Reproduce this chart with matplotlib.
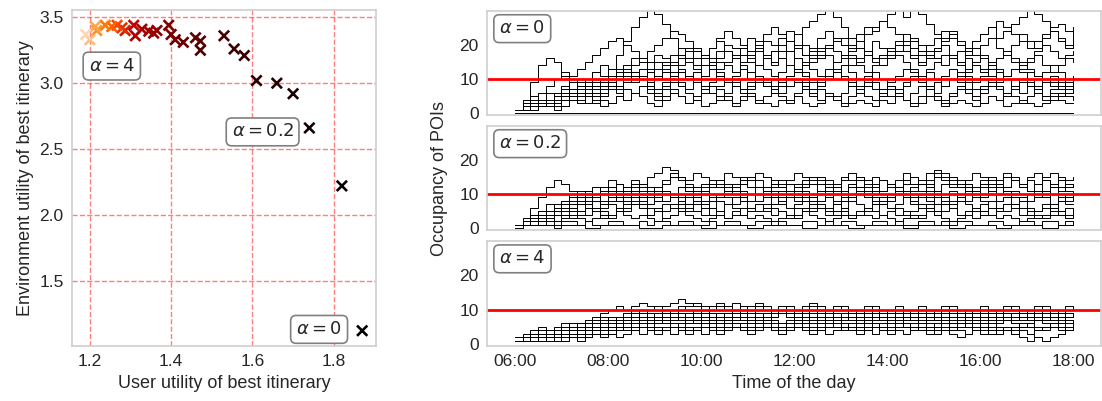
import numpy as np
import matplotlib
matplotlib.use("Agg")
import matplotlib.pyplot as plt

plt.rcParams["font.family"] = ["Liberation Sans", "DejaVu Sans"]
plt.rcParams["text.color"] = "#262626"
plt.rcParams["axes.labelcolor"] = "#262626"
plt.rcParams["xtick.color"] = "#262626"
plt.rcParams["ytick.color"] = "#262626"

# --- left: trade-off between user and environment utility (alpha = 0 ... 4)
user_util = [1.87, 1.82, 1.74, 1.70, 1.66, 1.61, 1.58, 1.555, 1.53, 1.472, 1.472,
             1.46, 1.43, 1.41, 1.40, 1.394, 1.365, 1.357, 1.345, 1.328, 1.312,
             1.308, 1.287, 1.279, 1.267, 1.254, 1.238, 1.217, 1.213, 1.20, 1.19]
env_util = [1.12, 2.22, 2.66, 2.92, 3.00, 3.02, 3.21, 3.26, 3.36, 3.25, 3.32,
            3.345, 3.31, 3.33, 3.37, 3.44, 3.40, 3.38, 3.395, 3.41, 3.36,
            3.44, 3.40, 3.42, 3.44, 3.43, 3.44, 3.40, 3.43, 3.33, 3.37]
alphas = [0, 0.1, 0.2, 0.3, 0.4, 0.5, 0.6, 0.7, 0.8, 0.9, 1.0, 1.1, 1.2, 1.3, 1.4,
          1.5, 1.6, 1.7, 1.8, 1.9, 2.0, 2.2, 2.4, 2.6, 2.8, 3.0, 3.2, 3.4, 3.6,
          3.8, 4.0]

# --- right: occupancy of POIs, one value every 10 minutes from 06:00 to 18:00
hours = [6 + k / 6 for k in range(73)]
tick_hours = [6, 8, 10, 12, 14, 16, 18]
tick_labels = ["06:00", "08:00", "10:00", "12:00", "14:00", "16:00", "18:00"]
capacity = 10

occ_alpha0 = [
    [1,4,9,14,16,15, 11,7,4,3,5,6, 8,7,9,11,10,8, 6,8,10,12,11,9, 7,9,11,10,8,6, 8,10,9,7,9,11, 13,11,9,8,10,12, 10,8,6,8,9,7, 5,7,9,11,10,8, 6,8,10,9,7,5, 7,9,8,6,8,10, 9,7,5,7,8,6, 7],
    [1,2,2,4,3,5, 6,5,7,9,8,10, 13,17,21,25,28,30, 29,26,22,19,16,14, 16,19,21,18,16,19, 22,20,17,15,18,21, 23,20,18,16,19,22, 20,17,15,18,21,19, 17,20,23,21,18,16, 19,22,24,21,19,17, 20,22,19,17,20,23, 21,19,22,24,22,20, 22],
    [1,1,2,3,2,4, 5,7,6,8,10,9, 11,13,12,14,16,15, 13,15,17,19,18,16, 14,16,18,20,19,17, 15,18,21,20,22,24, 23,25,27,29,30,28, 25,22,19,17,15,17, 19,21,18,16,14,16, 18,20,17,15,17,19, 16,14,16,18,15,13, 15,17,14,12,14,16, 15],
    [1,2,1,3,4,3, 5,4,6,8,7,9, 8,10,12,11,13,12, 10,12,14,16,15,13, 11,13,15,14,12,15, 17,19,16,14,16,18, 20,17,15,17,19,21, 22,20,23,25,24,27, 29,30,28,30,29,26, 23,20,17,15,13,15, 17,15,13,11,13,15, 13,11,12,14,12,10, 11],
    [1,1,2,2,3,5, 4,6,5,7,9,8, 10,12,11,9,11,13, 15,14,12,14,16,18, 17,15,13,15,17,19, 16,14,16,18,20,18, 16,14,17,19,17,15, 17,19,21,18,16,14, 16,18,20,17,15,17, 19,21,23,20,18,21, 23,25,22,24,26,28, 30,29,27,24,21,19, 24],
    [1,3,5,4,6,5, 7,9,8,6,8,10, 9,11,13,12,10,8, 10,12,11,9,7,9, 11,13,12,10,8,10, 12,14,13,11,9,11, 13,12,10,8,10,12, 14,12,10,11,9,7, 9,11,13,12,10,12, 10,8,10,12,11,9, 11,13,12,10,8,10, 12,11,9,8,10,9, 10],
    [1,2,3,2,4,3, 5,4,6,5,3,5, 7,6,4,6,8,6, 4,5,7,5,3,5, 7,6,4,6,8,6, 5,3,5,7,5,4, 6,8,6,4,6,5, 3,5,7,5,4,6, 8,6,4,3,5,7, 5,4,6,8,7,5, 3,5,4,6,5,3, 5,7,5,4,6,5, 4],
    [1,1,2,4,3,5, 7,9,8,10,12,14, 13,11,9,11,13,15, 17,16,14,12,10,12, 14,13,11,9,11,13, 12,10,8,10,12,14, 16,15,13,11,13,15, 17,16,14,12,14,16, 18,17,15,13,11,13, 15,17,16,14,12,14, 13,11,9,11,13,12, 10,8,10,9,7,8, 9],
    [1,2,2,3,2,1, 2,4,3,5,4,2, 3,5,4,6,5,3, 2,4,6,5,3,4, 2,3,5,4,2,4, 6,4,3,2,4,3, 5,3,2,3,5,4, 2,3,4,3,2,4, 3,5,4,2,3,5, 4,2,3,4,3,2, 3,5,4,2,3,4, 3,2,3,5,4,3, 3],
    [0,0,0,0,0,0, 0,0,0,0,0,0, 0,0,0,0,0,0, 0,0,0,0,0,0, 0,0,0,0,0,0, 0,0,0,0,0,0, 0,0,0,0,0,0, 0,0,0,0,0,0, 0,0,0,0,0,0, 0,0,0,0,0,0, 0,0,0,0,0,0, 0,0,0,0,0,0, 0],
    [1,2,4,6,8,10, 12,11,13,15,17,19, 21,22,20,18,16,18, 20,22,24,23,21,19, 17,19,22,24,22,20, 18,21,23,25,23,21, 19,17,19,22,24,22, 20,18,21,23,25,27, 25,23,21,19,17,20, 22,24,22,20,18,21, 23,25,27,25,23,21, 19,21,23,25,26,24, 25],
    [1,1,1,2,3,2, 4,6,8,10,12,11, 9,11,14,16,15,13, 11,13,15,17,19,18, 16,14,16,18,16,14, 12,14,16,18,16,14, 12,14,16,18,20,18, 16,14,16,18,16,14, 16,18,20,22,20,18, 16,14,16,18,16,14, 12,14,16,18,16,14, 16,18,20,18,16,17, 18],
    [1,2,3,2,4,6, 8,10,9,7,5,7, 9,8,10,12,11,9, 7,9,11,13,11,9, 8,6,8,10,9,7, 9,11,10,8,6,8, 10,9,7,9,11,13, 11,9,8,10,12,10, 8,6,8,10,9,7, 9,11,13,11,9,7, 8,10,12,10,8,6, 8,7,9,11,9,7, 8],
    [1,1,2,3,2,3, 2,4,3,5,6,4, 3,5,7,6,8,7, 5,7,9,8,6,4, 6,8,7,5,3,5, 7,9,8,6,8,10, 9,7,5,7,6,4, 6,8,10,9,7,5, 7,6,4,6,8,7, 5,3,5,7,6,4, 6,8,7,5,7,9, 8,6,4,6,5,7, 6],
]
occ_alpha02 = [
    [1,3,6,9,12,14, 13,11,8,6,8,10, 12,11,9,11,13,12, 10,8,10,12,11,9, 11,13,12,10,12,14, 12,10,11,13,12,10, 12,14,13,11,13,12, 10,12,14,12,10,11, 13,12,10,12,14,13, 11,13,15,13,11,12, 14,12,10,12,14,13, 11,13,14,12,11,13, 12],
    [1,2,3,5,7,6, 8,10,9,11,10,12, 11,13,12,14,13,15, 16,18,17,15,14,16, 15,13,14,16,15,13, 14,16,15,13,12,14, 16,15,13,15,14,12, 14,16,15,13,15,14, 12,14,16,15,13,14, 16,15,13,12,14,16, 15,13,14,16,15,13, 15,16,14,13,15,14, 15],
    [1,1,2,4,3,5, 7,6,8,10,9,11, 10,8,10,12,11,9, 11,13,15,14,12,10, 12,14,13,11,13,15, 14,12,10,12,14,13, 11,13,15,14,12,13, 11,13,15,14,12,14, 13,11,13,15,14,16, 17,16,14,12,13,11, 13,15,14,12,14,13, 11,13,15,16,14,12, 13],
    [1,2,4,3,5,7, 6,8,7,9,8,6, 8,10,9,7,9,11, 10,8,10,9,7,9, 11,10,8,7,9,11, 10,8,10,9,7,9, 11,10,8,10,12,10, 8,9,11,10,8,7, 9,11,10,8,10,9, 7,9,11,10,8,10, 12,10,8,9,11,10, 8,9,11,10,8,9, 10],
    [1,1,3,2,4,6, 5,7,9,8,10,12, 11,9,8,10,9,7, 9,11,10,12,11,9, 8,10,9,11,10,8, 10,12,11,9,11,10, 8,10,9,11,10,8, 10,12,11,9,11,10, 8,10,9,11,13,11, 9,8,10,9,11,10, 9,11,13,11,9,8, 10,9,11,10,9,10, 9],
    [1,2,2,4,3,5, 4,6,5,7,6,8, 7,5,7,9,8,6, 5,7,6,8,7,5, 7,6,8,7,9,8, 6,7,5,7,8,6, 7,9,8,6,5,7, 6,8,7,5,7,8, 6,7,9,8,6,7, 5,7,6,8,7,5, 7,8,6,7,9,8, 6,5,7,6,8,7, 7],
    [1,1,2,1,3,2, 4,3,5,4,6,5, 4,6,5,7,6,4, 6,5,7,8,6,5, 4,6,5,7,6,4, 6,5,7,6,5,4, 6,5,7,6,4,5, 6,4,5,6,5,4, 5,6,4,5,7,6, 4,5,6,4,5,6, 5,4,6,5,7,6, 4,5,6,4,5,6, 5],
    [1,2,1,2,3,2, 3,4,3,2,3,4, 3,5,4,3,4,3, 2,3,4,5,4,3, 2,3,4,3,5,4, 3,4,3,2,3,4, 3,5,4,3,2,3, 4,3,5,4,3,4, 3,2,3,4,3,5, 4,3,2,3,4,3, 5,4,3,4,3,2, 3,4,3,5,4,3, 4],
    [1,1,1,2,2,1, 2,2,1,2,1,1, 2,2,1,1,2,1, 2,2,1,2,2,1, 1,2,1,2,2,1, 1,2,2,1,2,1, 1,2,2,1,2,1, 2,2,1,1,2,2, 1,2,1,1,2,2, 1,2,1,2,2,1, 1,2,2,1,1,2, 2,1,2,2,1,2, 1],
    [0,1,1,1,1,0, 1,1,1,0,0,1, 1,1,1,1,0,0, 0,1,1,1,1,1, 0,0,1,1,1,1, 0,0,1,1,1,1, 1,0,0,1,1,1, 1,0,0,1,1,1, 1,1,0,0,1,1, 1,1,0,0,1,1, 1,1,0,0,1,1, 1,1,0,0,1,1, 1],
    [1,2,3,5,4,6, 8,7,9,11,10,12, 14,13,11,13,12,10, 12,14,16,15,13,11, 13,12,14,13,11,13, 15,14,12,14,13,11, 13,12,14,13,11,13, 15,14,12,14,13,11, 13,12,14,13,11,13, 15,14,12,14,13,11, 12,14,13,15,14,12, 14,13,11,12,14,13, 12],
    [1,1,2,3,5,4, 6,5,7,6,8,7, 9,8,6,8,7,9, 8,10,9,7,9,8, 6,8,10,9,7,9, 8,10,9,7,8,10, 9,8,6,8,9,7, 9,8,10,9,7,9, 8,10,9,7,9,8, 10,9,7,8,10,9, 8,6,8,9,7,9, 8,10,9,7,9,8, 9],
    [1,2,4,5,7,6, 8,9,11,10,12,11, 9,10,12,11,9,10, 12,11,9,8,10,12, 11,9,10,12,11,9, 8,10,12,11,9,10, 12,11,9,8,10,11, 9,10,12,11,9,8, 10,12,11,9,10,12, 11,9,8,10,12,11, 9,10,12,11,9,8, 10,11,9,10,12,11, 10],
    [1,1,2,2,3,4, 3,5,4,6,5,3, 4,6,5,7,6,4, 5,3,4,6,5,7, 6,4,5,3,4,6, 5,7,6,4,5,3, 4,6,5,7,6,4, 5,3,4,6,5,7, 6,4,5,3,4,6, 5,7,6,4,5,3, 4,6,5,7,6,4, 5,3,4,6,5,4, 5],
]
occ_alpha4 = [
    [1,2,3,2,3,4, 3,4,5,4,5,6, 5,6,7,8,7,8, 9,10,9,11,10,9, 10,11,12,11,10,9, 10,11,10,9,10,11, 10,9,10,11,10,11, 10,9,8,9,10,9, 10,9,8,9,8,9, 10,9,8,9,10,9, 8,9,10,9,8,9, 10,9,8,9,10,9, 9],
    [1,1,2,3,2,3, 4,3,4,5,6,5, 6,7,6,7,8,9, 8,9,10,9,8,9, 10,9,8,9,10,11, 10,9,8,9,10,9, 8,9,10,9,10,11, 10,9,10,9,8,9, 10,9,8,7,8,9, 8,9,10,9,8,9, 10,9,8,9,8,7, 8,9,10,9,8,9, 8],
    [1,2,1,2,3,4, 3,4,3,4,5,4, 5,6,7,6,7,8, 7,8,9,8,7,8, 9,8,7,8,9,8, 7,8,9,8,9,10, 9,8,7,8,9,8, 7,8,9,8,7,8, 9,8,7,8,9,8, 7,8,7,8,9,8, 7,8,9,8,7,8, 9,8,7,8,9,8, 8],
    [1,1,2,1,2,3, 2,3,4,3,4,5, 4,5,6,5,6,7, 6,7,8,7,6,7, 8,7,6,7,8,7, 6,7,8,7,6,7, 8,9,8,7,6,7, 8,7,6,7,8,7, 6,7,8,7,6,7, 8,7,6,7,8,7, 6,7,8,7,6,5, 6,7,8,7,6,7, 7],
    [1,2,2,3,2,3, 3,4,3,5,4,5, 6,5,6,7,6,5, 6,7,6,5,6,7, 6,5,6,7,6,5, 6,7,8,7,6,5, 6,7,6,5,6,7, 6,5,6,7,6,5, 6,7,6,5,4,5, 6,7,6,5,6,7, 6,5,6,7,6,5, 6,7,6,5,6,7, 6],
    [1,1,1,2,2,1, 2,3,2,3,4,3, 4,5,4,5,6,5, 4,5,6,5,4,5, 6,5,4,5,6,5, 4,5,6,5,4,5, 6,5,4,5,6,5, 4,5,4,5,6,5, 4,5,6,5,4,3, 4,5,4,5,6,5, 4,3,4,5,4,5, 6,5,4,5,4,5, 5],
    [1,1,2,2,1,2, 2,3,2,2,3,4, 3,4,5,4,5,4, 3,4,5,4,3,4, 5,4,3,4,5,4, 3,4,5,4,3,4, 5,4,3,4,3,4, 5,4,3,4,5,4, 3,4,3,4,5,4, 3,4,3,2,3,4, 3,4,5,4,3,4, 3,2,1,2,3,4, 4],
    [1,2,1,1,2,1, 1,2,1,2,3,2, 3,4,5,6,7,6, 7,8,7,8,9,8, 7,8,9,8,7,8, 9,8,7,8,9,8, 7,8,9,8,7,8, 9,8,7,8,9,8, 7,8,9,8,7,8, 7,8,9,8,7,8, 9,8,7,8,9,8, 7,8,9,8,7,8, 8],
    [2,3,4,5,4,5, 6,5,6,7,8,9, 10,11,10,11,12,11, 10,11,12,13,12,11, 10,11,10,11,12,11, 10,11,10,9,10,11, 10,11,12,11,10,11, 10,9,10,11,10,9, 10,11,10,9,10,9, 10,11,10,9,10,9, 10,9,10,11,10,9, 10,11,10,9,10,11, 10],
    [1,1,2,3,4,3, 4,5,4,6,5,6, 7,6,7,8,7,8, 7,6,7,8,7,6, 7,6,7,6,5,6, 7,6,7,6,5,6, 7,6,5,6,7,6, 5,6,7,6,5,4, 5,6,5,4,5,6, 5,4,5,6,5,4, 5,4,3,4,3,2, 1,2,1,2,3,4, 5],
    [1,2,3,4,3,4, 5,6,5,6,7,8, 7,8,9,10,9,10, 11,10,9,10,11,12, 11,10,11,10,9,10, 11,12,11,10,11,10, 9,10,11,10,9,10, 11,10,9,10,11,10, 9,10,9,10,11,10, 9,10,11,10,9,10, 11,10,9,10,11,10, 9,10,11,10,9,10, 10],
    [1,1,1,2,1,2, 3,2,3,4,3,4, 5,6,5,6,5,6, 7,6,5,6,7,6, 5,6,7,6,5,6, 5,6,5,4,5,6, 5,6,7,6,5,6, 5,4,5,6,5,6, 7,6,5,6,5,4, 5,6,5,6,7,6, 5,6,5,4,5,6, 5,4,5,6,5,6, 5],
    [1,1,2,1,2,2, 2,3,3,2,3,4, 3,2,3,4,3,4, 5,4,3,4,5,4, 3,4,5,6,5,4, 5,6,5,4,3,4, 5,4,3,4,5,6, 5,4,5,4,3,4, 5,6,5,4,5,4, 3,4,5,4,3,4, 5,4,3,4,5,4, 3,4,5,6,5,4, 4],
    [1,2,2,3,4,3, 4,5,6,5,6,7, 8,7,8,9,8,7, 8,9,10,9,8,9, 8,7,8,9,8,9, 8,7,8,9,10,9, 8,9,8,7,8,9, 8,7,8,9,8,7, 8,9,8,7,6,7, 8,7,8,9,8,7, 8,7,6,7,8,7, 8,9,8,7,8,9, 8],
]
panels = [(occ_alpha0, r"$\alpha = 0$"), (occ_alpha02, r"$\alpha = 0.2$"), (occ_alpha4, r"$\alpha = 4$")]

SPINE = "#d0d0d0"
box = dict(boxstyle="round,pad=0.3", fc="white", ec="gray", lw=1.2)

fig = plt.figure(figsize=(11.02, 4.01), dpi=100)

def style(ax):
    for s in ax.spines.values():
        s.set_color(SPINE)
        s.set_linewidth(1.25)
    ax.tick_params(length=0, labelsize=12.5, pad=6)

# left scatter
ax = fig.add_axes([0.0653, 0.1372, 0.2759, 0.8379])
ax.scatter(user_util, env_util, c=alphas, cmap="gist_heat", vmin=0, vmax=4.35,
           marker="x", s=55, linewidths=1.9, zorder=3)
ax.grid(True, color="red", alpha=0.5, linestyle="--", linewidth=1.0)
ax.set_xticks([1.2, 1.4, 1.6, 1.8])
ax.set_yticks([1.5, 2.0, 2.5, 3.0, 3.5])
ax.set_xlabel("User utility of best itinerary", fontsize=13)
ax.set_ylabel("Environment utility of best itinerary", fontsize=13)
style(ax)
ax.text(1.254, 3.13, r"$\alpha = 4$", fontsize=13, ha="center", va="center", bbox=box, zorder=4)
ax.text(1.625, 2.63, r"$\alpha = 0.2$", fontsize=13, ha="center", va="center", bbox=box, zorder=4)
ax.text(1.764, 1.13, r"$\alpha = 0$", fontsize=13, ha="center", va="center", bbox=box, zorder=4)

# right: occupancy over the day
bottoms = [0.7132, 0.4264, 0.1372]
heights = [0.2594, 0.2594, 0.2618]
for i, (series, label) in enumerate(panels):
    axr = fig.add_axes([0.4419, bottoms[i], 0.5572, heights[i]])
    for occ in series:
        axr.step(hours, occ, where="post", color="black", linewidth=0.7)
    axr.axhline(capacity, color="red", linewidth=2)
    axr.set_xlim(5.4, 18.6)
    axr.set_ylim(-0.5, 29.8)
    axr.set_yticks([0, 10, 20])
    axr.set_xticks(tick_hours)
    if i < 2:
        axr.set_xticklabels([])
    else:
        axr.set_xticklabels(tick_labels)
        axr.set_xlabel("Time of the day", fontsize=13)
    style(axr)
    axr.text(0.02, 0.83, label, transform=axr.transAxes, fontsize=13,
             ha="left", va="center", bbox=box)

fig.text(0.399, 0.555, "Occupancy of POIs", rotation=90, fontsize=13,
         ha="center", va="center")

fig.savefig("out.png", dpi=100)
